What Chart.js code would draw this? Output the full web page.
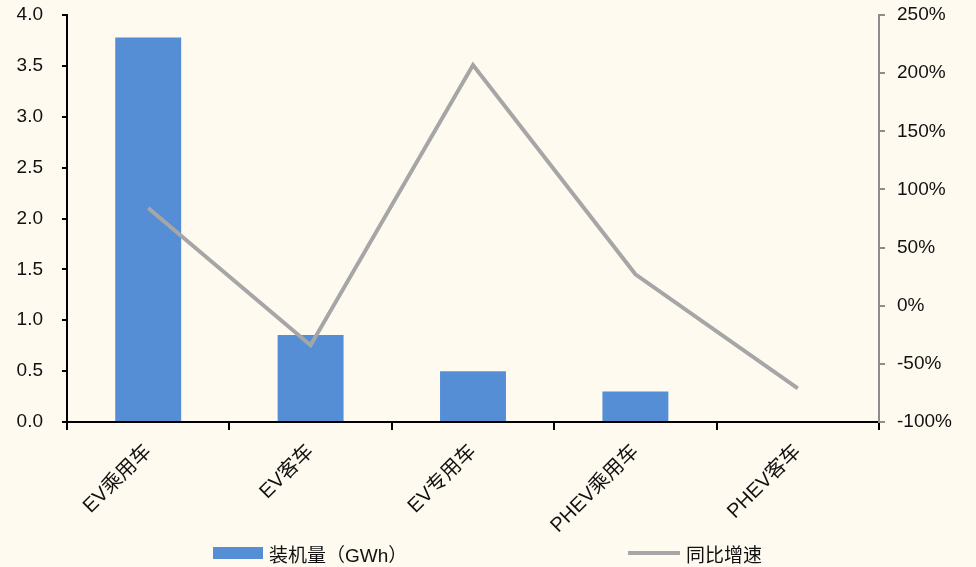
<!DOCTYPE html>
<html>
<head>
<meta charset="utf-8">
<script src="https://cdn.jsdelivr.net/npm/chart.js@4.4.0/dist/chart.umd.min.js"></script>
<style>
    html, body { margin: 0; padding: 0; background: #FEFAEF; }
    #wrap { position: relative; width: 976px; height: 567px; }
    #legend { position: absolute; left: 0; top: 0; width: 976px; height: 567px; pointer-events: none;
        font-family: "Liberation Sans", "Noto Sans CJK SC", sans-serif; font-size: 19px; color: #111; }
    .item { position: absolute; top: 541px; display: flex; align-items: center; height: 24px; }
    .box { width: 50px; height: 12px; background: #558ED5; margin-right: 6px; }
    .line { width: 52px; height: 4px; background: #A6A6A6; margin-right: 6px; }
</style>
</head>
<body>
<div id="wrap">
    <canvas id="chart" width="976" height="567"></canvas>
    <div id="legend">
        <div class="item" style="left:213px"><div class="box"></div><span>装机量（GWh）</span></div>
        <div class="item" style="left:628px"><div class="line"></div><span>同比增速</span></div>
    </div>
</div>
<script>
const categories = ["EV乘用车", "EV客车", "EV专用车", "PHEV乘用车", "PHEV客车"];
const capacity = [3.78, 0.855, 0.50, 0.30, 0];
const yoyGrowth = [84, -34, 207, 27, -71];

const fontFamily = '"Liberation Sans", "Noto Sans CJK SC", sans-serif';

// tick padding also pads the top of a vertical axis, so drop that part
function fixVertical(width) {
    return (scale) => {
        scale.width = width;
        scale.paddingTop = 0;
        scale.paddingBottom = 0;
    };
}

document.addEventListener("DOMContentLoaded", () => {
    const ctx = document.getElementById("chart").getContext("2d");

    new Chart(ctx, {
        type: "bar",
        data: {
            labels: categories,
            datasets: [{
                type: "line",
                label: "同比增速",
                data: yoyGrowth,
                yAxisID: "y1",
                borderColor: "#A6A6A6",
                borderWidth: 4,
                pointRadius: 0,
                tension: 0,
                order: 0
            }, {
                label: "装机量（GWh）",
                data: capacity,
                yAxisID: "y",
                backgroundColor: "#558ED5",
                barPercentage: 0.406,
                categoryPercentage: 1,
                order: 1
            }]
        },
        options: {
            responsive: false,
            animation: false,
            layout: { padding: { top: 15, left: 0, right: 0, bottom: 0 } },
            plugins: {
                legend: { display: false },
                tooltip: { enabled: false }
            },
            scales: {
                x: {
                    offset: true,
                    grid: { offset: true, drawOnChartArea: false, color: "#000", lineWidth: 2, tickLength: 8 },
                    border: { color: "#000", width: 2 },
                    ticks: {
                        minRotation: 45, maxRotation: 45,
                        color: "#111",
                        font: { family: fontFamily, size: 20 },
                        padding: 10
                    },
                    afterFit: (scale) => { scale.height = 145; }
                },
                y: {
                    position: "left",
                    min: 0, max: 4,
                    ticks: {
                        stepSize: 0.5,
                        color: "#111",
                        font: { family: fontFamily, size: 19 },
                        padding: 19,
                        callback: (v) => v.toFixed(1)
                    },
                    grid: { drawOnChartArea: false, color: "#000", lineWidth: 2, tickLength: 5 },
                    border: { color: "#000", width: 2 },
                    afterFit: fixVertical(67)
                },
                y1: {
                    position: "right",
                    min: -100, max: 250,
                    ticks: {
                        stepSize: 50,
                        color: "#111",
                        font: { family: fontFamily, size: 19 },
                        padding: 12,
                        callback: (v) => v + "%"
                    },
                    grid: { drawOnChartArea: false, color: "#8C8C8C", lineWidth: 2, tickLength: 6 },
                    border: { color: "#8C8C8C", width: 2 },
                    afterFit: fixVertical(97)
                }
            }
        }
    });
});
</script>
</body>
</html>
